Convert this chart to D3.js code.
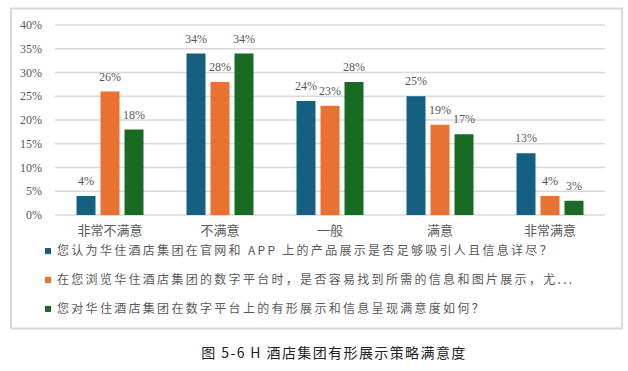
<!DOCTYPE html>
<html><head><meta charset="utf-8">
<script src="https://cdn.jsdelivr.net/npm/d3@7/dist/d3.min.js"></script>
<style>body{margin:0;background:#fff;}</style>
</head><body>
<svg id="c" width="628" height="371"></svg>
<script>
const categories = ["非常不满意","不满意","一般","满意","非常满意"];
const seriesNames = [
  "您认为华住酒店集团在官网和 APP 上的产品展示是否足够吸引人且信息详尽？",
  "在您浏览华住酒店集团的数字平台时，是否容易找到所需的信息和图片展示，尤...",
  "您对华住酒店集团在数字平台上的有形展示和信息呈现满意度如何？"
];
const series1 = [4,34,24,25,13];
const series2 = [26,28,23,19,4];
const series3 = [18,34,28,17,3];
const yTicks = [0,5,10,15,20,25,30,35,40];
const colors = ["#156082","#E97132","#196B24"];
const caption = "图 5-6 H 酒店集团有形展示策略满意度";

(function(){
const allSeries = [series1, series2, series3];
const svg = d3.select("#c");
const serif = "'Liberation Serif','Times New Roman',serif";
const cjk = "'Noto Sans CJK SC','Liberation Serif',serif";

svg.append("rect").attr("x",11).attr("y",8.5).attr("width",611).attr("height",320)
  .attr("fill","none").attr("stroke","#D9D9D9").attr("stroke-width",2);

const pl=55, pr=605, pt=25, pb=215;
const x = d3.scaleBand().domain(categories).range([pl,pr]);
const y = d3.scaleLinear().domain([0,40]).range([pb,pt]);
const barW = 19, gap = 5;

svg.append("g").selectAll("line").data(yTicks).join("line")
  .attr("x1",pl).attr("x2",pr)
  .attr("y1",d=>y(d)).attr("y2",d=>y(d))
  .attr("stroke","#D9D9D9").attr("stroke-width",1.5);

svg.append("g").selectAll("text").data(yTicks).join("text")
  .attr("x",42).attr("y",d=>y(d)).attr("dy","0.35em")
  .attr("text-anchor","end").attr("font-family",serif).attr("font-size",12)
  .attr("fill","#595959").text(d=>d+"%");

const groupW = barW*3+gap*2;
allSeries.forEach((s,i)=>{
  const g = svg.append("g");
  const bx = c => x(c)+x.bandwidth()/2-groupW/2+i*(barW+gap);
  g.selectAll("rect").data(categories).join("rect")
    .attr("x",c=>bx(c)).attr("width",barW)
    .attr("y",(c,j)=>y(s[j])).attr("height",(c,j)=>pb-y(s[j]))
    .attr("fill",colors[i]);
  g.selectAll("text").data(categories).join("text")
    .attr("x",c=>bx(c)+barW/2).attr("y",(c,j)=>y(s[j])-15).attr("dy","0.35em")
    .attr("text-anchor","middle").attr("font-family",serif).attr("font-size",12)
    .attr("fill","#595959").text((c,j)=>s[j]+"%");
});

svg.append("g").selectAll("text").data(categories).join("text")
  .attr("x",c=>x(c)+x.bandwidth()/2).attr("y",230).attr("dy","0.35em")
  .attr("text-anchor","middle").attr("font-family",cjk).attr("font-size",13)
  .attr("fill","#595959").text(c=>c);

const ly = [251,280,309];
seriesNames.forEach((n,i)=>{
  svg.append("rect").attr("x",45).attr("y",ly[i]-3).attr("width",6).attr("height",6).attr("fill",colors[i]);
  svg.append("text").attr("x",57).attr("y",ly[i]).attr("dy","0.35em")
    .attr("font-family",cjk).attr("font-size",12).attr("letter-spacing",2.3)
    .attr("fill","#595959").text(n);
});

svg.append("text").attr("x",334).attr("y",353).attr("dy","0.35em")
  .attr("text-anchor","middle").attr("font-family",cjk).attr("font-size",14)
  .attr("letter-spacing",1.4).attr("fill","#222").text(caption);
})();
</script>
</body></html>
